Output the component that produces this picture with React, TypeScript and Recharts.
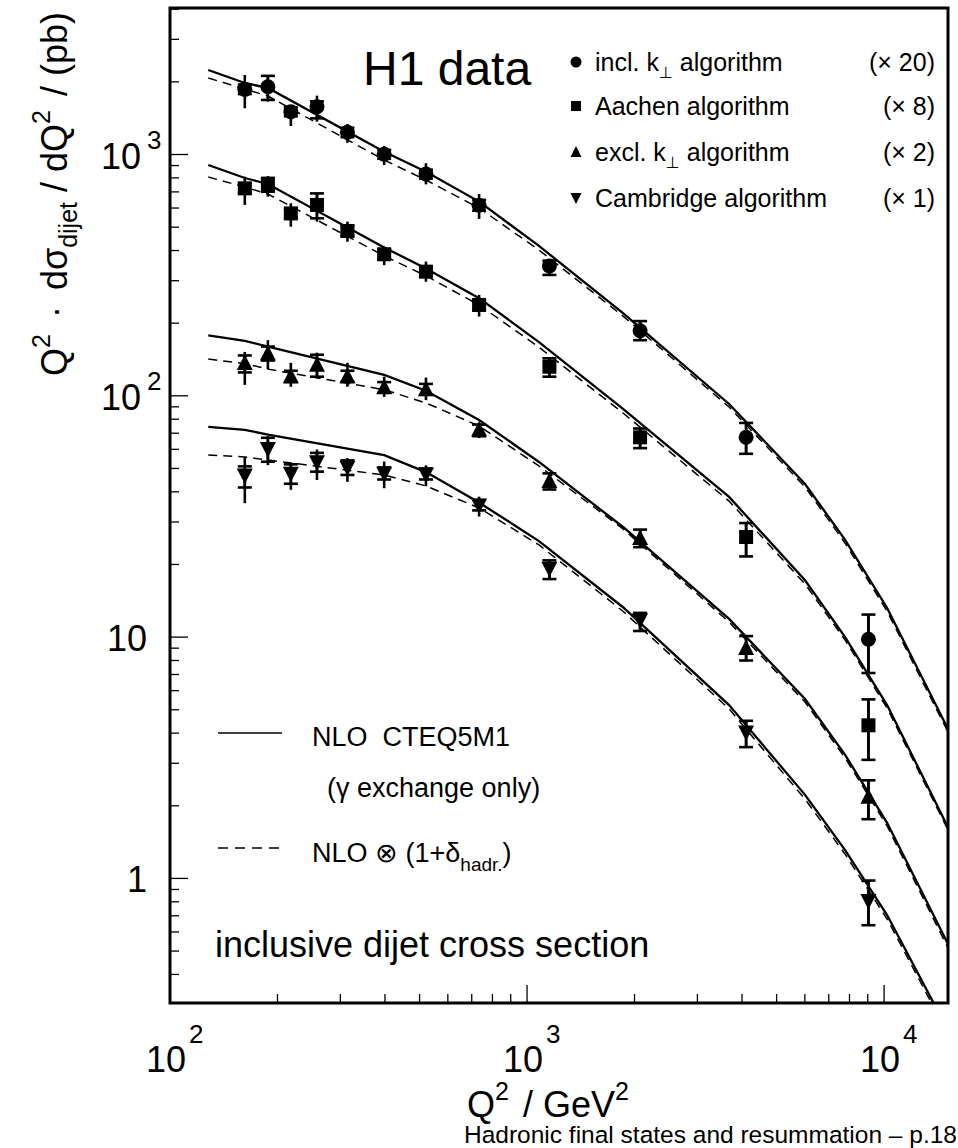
import { ComposedChart, Line, Scatter, ErrorBar, XAxis, YAxis, ReferenceArea } from "recharts";

const FONT = "'Liberation Sans', Arial, Helvetica, sans-serif";

const X_MIN = 100;
const X_MAX = 15100;
const Y_MIN = 0.3046;
const Y_MAX = 4047;

const xTicks = [100, 200, 300, 400, 500, 600, 700, 800, 900, 1000, 2000, 3000, 4000, 5000, 6000, 7000, 8000, 9000, 10000];
const yTicks = [0.4, 0.5, 0.6, 0.7, 0.8, 0.9, 1, 2, 3, 4, 5, 6, 7, 8, 9, 10, 20, 30, 40, 50, 60, 70, 80, 90,
  100, 200, 300, 400, 500, 600, 700, 800, 900, 1000, 2000, 3000, 4000];

// measured Q2 positions of the data points (GeV^2)
const pointQ2 = [162, 188, 218, 258, 314, 398, 521, 734, 1155, 2073, 4107, 9040];

// incl. kt (x20)
const inclKtVal = [1862, 1909, 1504, 1578, 1236, 1002, 830, 616, 345, 186, 67.3, 9.8];
const inclKtTot = [[1555, 2135], [1656, 2118], [1313, 1604], [1368, 1753], [1119, 1338], [905, 1085], [752, 920], [541, 686], [317, 363], [170, 204], [57.5, 77.2], [7.1, 12.4]];
const inclKtStat = [[1780, 1950], [1683, 2118], [1440, 1570], [1412, 1660], [1180, 1290], [960, 1045], [795, 865], [585, 648], [317, 363], [170, 204], [57.5, 77.2], [7.1, 12.4]];

// Aachen (x8)
const aachenVal = [724, 748, 570, 618, 482, 386, 327, 238, 132, 67.3, 26.0, 4.31];
const aachenTot = [[618, 809], [669, 814], [502, 628], [527, 690], [435, 527], [348, 415], [297, 360], [213, 262], [120, 143], [60.7, 73.2], [21.6, 29.7], [3.1, 5.52]];
const aachenStat = [[690, 760], [701, 800], [545, 596], [544, 690], [460, 505], [368, 405], [312, 343], [226, 250], [120, 143], [60.7, 73.2], [21.6, 29.7], [3.1, 5.52]];

// excl. kt (x2)
const exclKtVal = [136, 149, 120, 134, 120, 108, 106, 72.1, 44.1, 25.6, 8.97, 2.17];
const exclKtTot = [[111, 152], [129, 170], [109, 137], [118, 151], [109, 137], [99, 120], [96, 119], [66.8, 77.1], [40.9, 47.7], [23.6, 27.9], [8.0, 10.1], [1.76, 2.55]];
const exclKtStat = [[125, 147], [140, 160], [114, 127], [120, 148], [114, 127], [103, 114], [101, 112], [68, 76], [40.9, 47.7], [23.6, 27.9], [8.0, 10.1], [1.76, 2.55]];

// Cambridge (x1)
const cambVal = [47.0, 60.5, 47.8, 53.3, 50.6, 47.8, 47.4, 35.3, 19.3, 11.8, 4.04, 0.81];
const cambTot = [[35.9, 55.6], [51.6, 68.0], [40.8, 52.7], [44.8, 59.9], [44.0, 55.2], [41.4, 53.4], [42.2, 51.5], [31.6, 38.2], [17.4, 20.8], [10.6, 12.6], [3.5, 4.5], [0.64, 0.98]];
const cambStat = [[41.7, 51.0], [53.3, 67], [43.2, 52], [48.5, 58], [47, 54], [45, 50.5], [45, 50], [33.5, 37], [17.4, 20.8], [10.6, 12.6], [3.5, 4.5], [0.64, 0.98]];

// NLO curves (solid) and NLO x (1+delta_hadr) (dashed)
const theoryQ2 = [128, 162, 188, 398, 521, 734, 1080, 1857, 3680, 6006, 7777, 10195, 15100];
const inclKtNlo = [2240, 1979, 1887, 1027, 849, 638, 418, 220, 92.5, 43.1, 25.3, 13.2, 4.16];
const inclKtHad = [2075, 1868, 1747, 949, 784, 600, 402, 214, 89.9, 41.9, 24.5, 12.8, 4.04];
const aachenNlo = [905, 799, 755, 412, 337, 254, 167, 88.2, 38.1, 17.2, 10.0, 5.23, 1.63];
const aachenHad = [807, 733, 686, 380, 314, 238, 159, 84.9, 36.6, 16.6, 9.72, 5.08, 1.59];
const exclKtNlo = [178, 169, 160, 122, 105, 79.4, 53.2, 28.6, 11.9, 5.54, 3.25, 1.70, 0.535];
const exclKtHad = [142, 136, 129, 106, 93.4, 75.0, 51.2, 28.1, 11.55, 5.38, 3.16, 1.65, 0.515];
const cambNlo = [74.3, 72.2, 69.1, 56.8, 48.3, 36.1, 25.0, 13.3, 5.23, 2.22, 1.31, 0.705, 0.235];
const cambHad = [56.8, 55.8, 54.2, 47.0, 42.3, 34.3, 24.1, 12.8, 5.04, 2.13, 1.26, 0.679, 0.226];

const theory = theoryQ2.map((q2, i) => ({
  q2,
  ik: inclKtNlo[i], ikh: inclKtHad[i],
  aa: aachenNlo[i], aah: aachenHad[i],
  ek: exclKtNlo[i], ekh: exclKtHad[i],
  ca: cambNlo[i], cah: cambHad[i],
}));

const makePoints = (vals: number[], tot: number[][], stat: number[][]) =>
  pointQ2.map((q2, i) => ({
    q2,
    v: vals[i],
    tot: [vals[i] - tot[i][0], tot[i][1] - vals[i]],
    stat: [vals[i] - stat[i][0], stat[i][1] - vals[i]],
  }));

const inclKtPts = makePoints(inclKtVal, inclKtTot, inclKtStat);
const aachenPts = makePoints(aachenVal, aachenTot, aachenStat);
const exclKtPts = makePoints(exclKtVal, exclKtTot, exclKtStat);
const cambPts = makePoints(cambVal, cambTot, cambStat);

const isDecade = (v: number) => Math.abs(Math.log10(v) - Math.round(Math.log10(v))) < 1e-9;

function XTick(props: any) {
  const { x, y, payload } = props;
  const v = payload.value;
  const major = isDecade(v);
  const e = Math.round(Math.log10(v));
  return (
    <g>
      <line x1={x} x2={x} y1={y} y2={y - (major ? 18 : 9)} stroke="#000" strokeWidth={1.3} />
      {major && (
        <g fontFamily={FONT} fill="#000">
          <text x={x - 4} y={y + 69} textAnchor="middle" fontSize={36}>10</text>
          <text x={x + 19} y={y + 40} fontSize={26}>{e}</text>
        </g>
      )}
    </g>
  );
}

function YTick(props: any) {
  const { x, y, payload } = props;
  const v = payload.value;
  const major = isDecade(v);
  const e = Math.round(Math.log10(v));
  return (
    <g>
      <line x1={x} x2={x + (major ? 18 : 9)} y1={y} y2={y} stroke="#000" strokeWidth={1.3} />
      {major && e <= 1 && (
        <text x={x - 23} y={y + 14} textAnchor="end" fontSize={36} fontFamily={FONT} fill="#000">{String(v)}</text>
      )}
      {major && e > 1 && (
        <g fontFamily={FONT} fill="#000">
          <text x={x - 29} y={y + 14} textAnchor="end" fontSize={36}>10</text>
          <text x={x - 23} y={y - 6} fontSize={26}>{e}</text>
        </g>
      )}
    </g>
  );
}

const Dot = (p: any) => <circle cx={p.cx} cy={p.cy} r={7.5} fill="#000" />;
const Box = (p: any) => <rect x={p.cx - 7} y={p.cy - 7} width={14} height={14} fill="#000" />;
const TriUp = (p: any) => (
  <path d={`M${p.cx},${p.cy - 9} L${p.cx + 8},${p.cy + 6.5} L${p.cx - 8},${p.cy + 6.5} Z`} fill="#000" />
);
const TriDown = (p: any) => (
  <path d={`M${p.cx},${p.cy + 9} L${p.cx + 8},${p.cy - 6.5} L${p.cx - 8},${p.cy - 6.5} Z`} fill="#000" />
);

const series = [
  { key: "ik", pts: inclKtPts, shape: Dot },
  { key: "aa", pts: aachenPts, shape: Box },
  { key: "ek", pts: exclKtPts, shape: TriUp },
  { key: "ca", pts: cambPts, shape: TriDown },
];

const legendRows = [
  { y: 62, sym: "dot", name: "incl. k", sub: true, rest: " algorithm", scale: "(\u00d7 20)" },
  { y: 106, sym: "box", name: "Aachen algorithm", sub: false, rest: "", scale: "(\u00d7 8)" },
  { y: 152, sym: "up", name: "excl. k", sub: true, rest: " algorithm", scale: "(\u00d7 2)" },
  { y: 198, sym: "down", name: "Cambridge algorithm", sub: false, rest: "", scale: "(\u00d7 1)" },
];

function LegendSymbol({ sym, x, y }: { sym: string; x: number; y: number }) {
  if (sym === "dot") return <circle cx={x} cy={y} r={5.5} fill="#000" />;
  if (sym === "box") return <rect x={x - 5} y={y - 5} width={10} height={10} fill="#000" />;
  if (sym === "up") return <path d={`M${x},${y - 6} L${x + 5.5},${y + 5} L${x - 5.5},${y + 5} Z`} fill="#000" />;
  return <path d={`M${x},${y + 6} L${x + 5.5},${y - 5} L${x - 5.5},${y - 5} Z`} fill="#000" />;
}

export default function App() {
  return (
    <div style={{ position: "absolute", left: 0, top: 0, width: 958, height: 1148, background: "#fff" }}>
      <ComposedChart
        width={958}
        height={1148}
        data={theory}
        margin={{ top: 8, right: 10, bottom: 115, left: 110 }}
      >
        <XAxis
          dataKey="q2"
          type="number"
          scale="log"
          domain={[X_MIN, X_MAX]}
          allowDataOverflow
          ticks={xTicks}
          interval={0}
          tick={XTick}
          tickLine={false}
          axisLine={false}
          tickSize={0}
          tickMargin={0}
          height={30}
        />
        <YAxis
          dataKey="v"
          type="number"
          scale="log"
          domain={[Y_MIN, Y_MAX]}
          allowDataOverflow
          ticks={yTicks}
          interval={0}
          tick={YTick}
          tickLine={false}
          axisLine={false}
          tickSize={0}
          tickMargin={0}
          width={60}
        />
        {series.map((s) => (
          <Line key={s.key} dataKey={s.key} type="linear" stroke="#000" strokeWidth={2.3} dot={false} isAnimationActive={false} />
        ))}
        {series.map((s) => (
          <Line key={s.key + "h"} dataKey={s.key + "h"} type="linear" stroke="#000" strokeWidth={1.5} strokeDasharray="9 6" dot={false} isAnimationActive={false} />
        ))}
        {series.map((s) => (
          <Scatter key={s.key + "p"} data={s.pts} dataKey="v" shape={s.shape} isAnimationActive={false}>
            <ErrorBar dataKey="tot" direction="y" width={0} stroke="#000" strokeWidth={2.6} isAnimationActive={false} />
            <ErrorBar dataKey="stat" direction="y" width={7} stroke="#000" strokeWidth={2.6} isAnimationActive={false} />
          </Scatter>
        ))}
        <ReferenceArea x1={X_MIN} x2={X_MAX} y1={Y_MIN} y2={Y_MAX} fill="none" fillOpacity={0} stroke="#000" strokeWidth={3} ifOverflow="visible" />
      </ComposedChart>

      <svg width={958} height={1148} style={{ position: "absolute", left: 0, top: 0, pointerEvents: "none" }} fontFamily={FONT} fill="#000">
        <text x={363} y={85} fontSize={48}>H1 data</text>

        {legendRows.map((r) => (
          <g key={r.name}>
            <LegendSymbol sym={r.sym} x={576} y={r.y} />
            <text x={595} y={r.y + 9} fontSize={25}>
              {r.name}
              {r.sub && <tspan dy={7} fontSize={16} fontFamily="'DejaVu Sans', sans-serif" fill="#000">{"\u22a5"}</tspan>}
              {r.sub && <tspan dy={-7}>{r.rest}</tspan>}
            </text>
            <text x={935} y={r.y + 9} fontSize={25} textAnchor="end">{r.scale}</text>
          </g>
        ))}

        <line x1={218} x2={282} y1={733} y2={733} stroke="#000" strokeWidth={1.5} />
        <text x={312} y={746} fontSize={27} style={{ whiteSpace: "pre" }}>{"NLO  CTEQ5M1"}</text>
        <text x={327} y={797} fontSize={27}>({"\u03b3"} exchange only)</text>
        <line x1={218} x2={282} y1={848} y2={848} stroke="#000" strokeWidth={1.5} strokeDasharray="10 7" />
        <text x={312} y={862} fontSize={27}>
          NLO {"\u2297"} (1+{"\u03b4"}
          <tspan dy={9} fontSize={19}>hadr.</tspan>
          <tspan dy={-9}>)</tspan>
        </text>

        <text x={215} y={957} fontSize={36}>inclusive dijet cross section</text>

        <text x={467} y={1117} fontSize={36}>
          Q<tspan dy={-17} fontSize={25}>2</tspan>
          <tspan dy={17} dx={14}>/ GeV</tspan>
          <tspan dy={-17} fontSize={25}>2</tspan>
        </text>

        <text x={67} y={12} transform="rotate(-90 67 12)" textAnchor="end" fontSize={36}>
          Q<tspan dy={-17} fontSize={25}>2</tspan>
          <tspan dy={17} dx={16}>{"\u00b7"}</tspan>
          <tspan dx={16}>d{"\u03c3"}</tspan>
          <tspan dy={10} fontSize={25}>dijet</tspan>
          <tspan dy={-10} dx={10}>/ dQ</tspan>
          <tspan dy={-17} fontSize={25}>2</tspan>
          <tspan dy={17} dx={14}>/ (pb)</tspan>
        </text>

        <text x={957} y={1143} fontSize={24.5} textAnchor="end">Hadronic final states and resummation {"\u2013"} p.18</text>
      </svg>
    </div>
  );
}
